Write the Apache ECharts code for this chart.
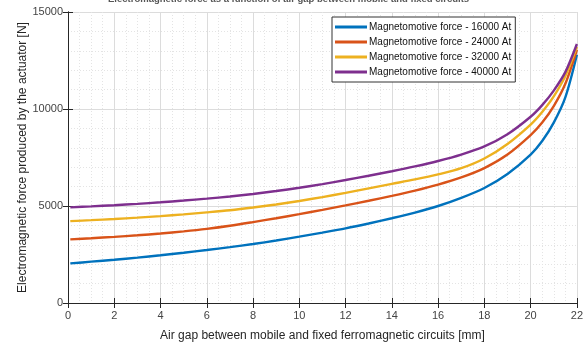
<!DOCTYPE html>
<html>
<head>
<meta charset="utf-8">
<script src="https://cdn.jsdelivr.net/npm/echarts@6/dist/echarts.min.js"></script>
<style>
  html,body{margin:0;padding:0;background:#fff;}
  #chart{width:586px;height:347px;}
</style>
</head>
<body>
<div id="chart"></div>
<script>
// air gap [mm]
const gap = [0.1, 1, 2, 3, 4, 5, 6, 7, 8, 9, 10, 11, 12, 13, 14, 15, 16, 17, 18, 19, 20, 20.5, 21, 21.5, 22];
// force [N] for each magnetomotive force
const f16000 = [2040, 2130, 2230, 2340, 2460, 2590, 2730, 2880, 3040, 3220, 3420, 3630, 3850, 4100, 4370, 4660, 5000, 5420, 5930, 6650, 7650, 8350, 9300, 10600, 12800];
const f24000 = [3280, 3340, 3410, 3490, 3580, 3690, 3820, 3980, 4170, 4370, 4580, 4800, 5030, 5270, 5520, 5790, 6100, 6470, 6950, 7650, 8650, 9300, 10150, 11300, 13050];
const f32000 = [4220, 4270, 4330, 4400, 4480, 4570, 4670, 4780, 4920, 5080, 5260, 5460, 5680, 5910, 6140, 6370, 6630, 6950, 7450, 8200, 9200, 9850, 10650, 11700, 13200];
const f40000 = [4930, 4980, 5040, 5110, 5190, 5280, 5380, 5490, 5620, 5770, 5940, 6130, 6340, 6560, 6790, 7040, 7320, 7650, 8070, 8700, 9600, 10200, 10950, 11900, 13350];
const seriesNames = ["Magnetomotive force - 16000 At", "Magnetomotive force - 24000 At", "Magnetomotive force - 32000 At", "Magnetomotive force - 40000 At"];
const seriesColors = ["#0072BD", "#D95319", "#EDB120", "#7E2F8E"];

const chart = echarts.init(document.getElementById("chart"));
const font = "Liberation Sans, Arial, sans-serif";
const axisDark = "#262626";

function pair(ys){
  return gap.map((g,i)=>[g, ys[i]]);
}

const allSeries = [f16000, f24000, f32000, f40000].map((ys,i)=>({
  type: "line",
  name: seriesNames[i],
  data: pair(ys),
  smooth: 0.3,
  symbol: "none",
  lineStyle: {width: 2.4, color: seriesColors[i]},
  itemStyle: {color: seriesColors[i]},
  z: 5
}));

const tickIn = {show: true, inside: true, length: 5, lineStyle: {color: axisDark}};

chart.setOption({
  animation: false,
  backgroundColor: "#fff",
  textStyle: {fontFamily: font},
  title: {
    text: "Electromagnetic force as a function of air gap between mobile and fixed circuits",
    left: 103,
    top: -11,
    textStyle: {fontSize: 9.5, fontWeight: "bold", color: "#555", fontFamily: font}
  },
  grid: {left: 68, right: 9, top: 12, bottom: 41, containLabel: false},
  legend: {
    orient: "vertical",
    left: 332,
    top: 17,
    padding: [4, 4, 4, 3],
    itemGap: 3,
    itemWidth: 32,
    itemHeight: 3,
    icon: "rect",
    backgroundColor: "#fff",
    borderColor: "#333",
    borderWidth: 1,
    textStyle: {fontSize: 10, lineHeight: 12, color: "#111", fontFamily: font, padding: [0, 0, 0, -3]},
    data: seriesNames
  },
  xAxis: [{
    type: "value",
    min: 0, max: 22, interval: 2,
    name: "Air gap between mobile and fixed ferromagnetic circuits [mm]",
    nameLocation: "middle",
    nameGap: 27,
    nameMoveOverlap: false,
    nameTextStyle: {fontSize: 12, color: axisDark},
    axisLine: {show: true, lineStyle: {color: axisDark, width: 1}},
    axisTick: tickIn,
    axisLabel: {fontSize: 11, color: "#444", margin: 7},
    splitLine: {show: true, lineStyle: {color: "#dcdcdc", width: 1}},
    minorTick: {show: false, splitNumber: 4},
    minorSplitLine: {show: true, lineStyle: {color: "#e4e4e4", type: [1, 2]}}
  }, {
    type: "value",
    position: "top",
    min: 0, max: 22, interval: 2,
    axisLine: {show: true, lineStyle: {color: axisDark, width: 1}},
    axisTick: tickIn,
    axisLabel: {show: false},
    splitLine: {show: false}
  }],
  yAxis: [{
    type: "value",
    min: 0, max: 15000, interval: 5000,
    name: "Electromagnetic force produced by the actuator [N]",
    nameLocation: "middle",
    nameGap: 39,
    nameMoveOverlap: false,
    nameTextStyle: {fontSize: 12, color: axisDark},
    axisLine: {show: true, lineStyle: {color: axisDark, width: 1}},
    axisTick: tickIn,
    axisLabel: {fontSize: 11, color: "#444", margin: 5, formatter: v => String(v)},
    splitLine: {show: false},
    minorTick: {show: false, splitNumber: 5},
    minorSplitLine: {show: false}
  }, {
    type: "value",
    position: "right",
    min: 0, max: 15000, interval: 5000,
    axisLine: {show: true, lineStyle: {color: axisDark, width: 1}},
    axisTick: tickIn,
    axisLabel: {show: false},
    splitLine: {show: true, lineStyle: {color: "#dcdcdc", width: 1}},
    minorTick: {show: false, splitNumber: 5},
    minorSplitLine: {show: true, lineStyle: {color: "#e4e4e4", type: [1, 2]}}
  }],
  series: allSeries
});
</script>
</body>
</html>
